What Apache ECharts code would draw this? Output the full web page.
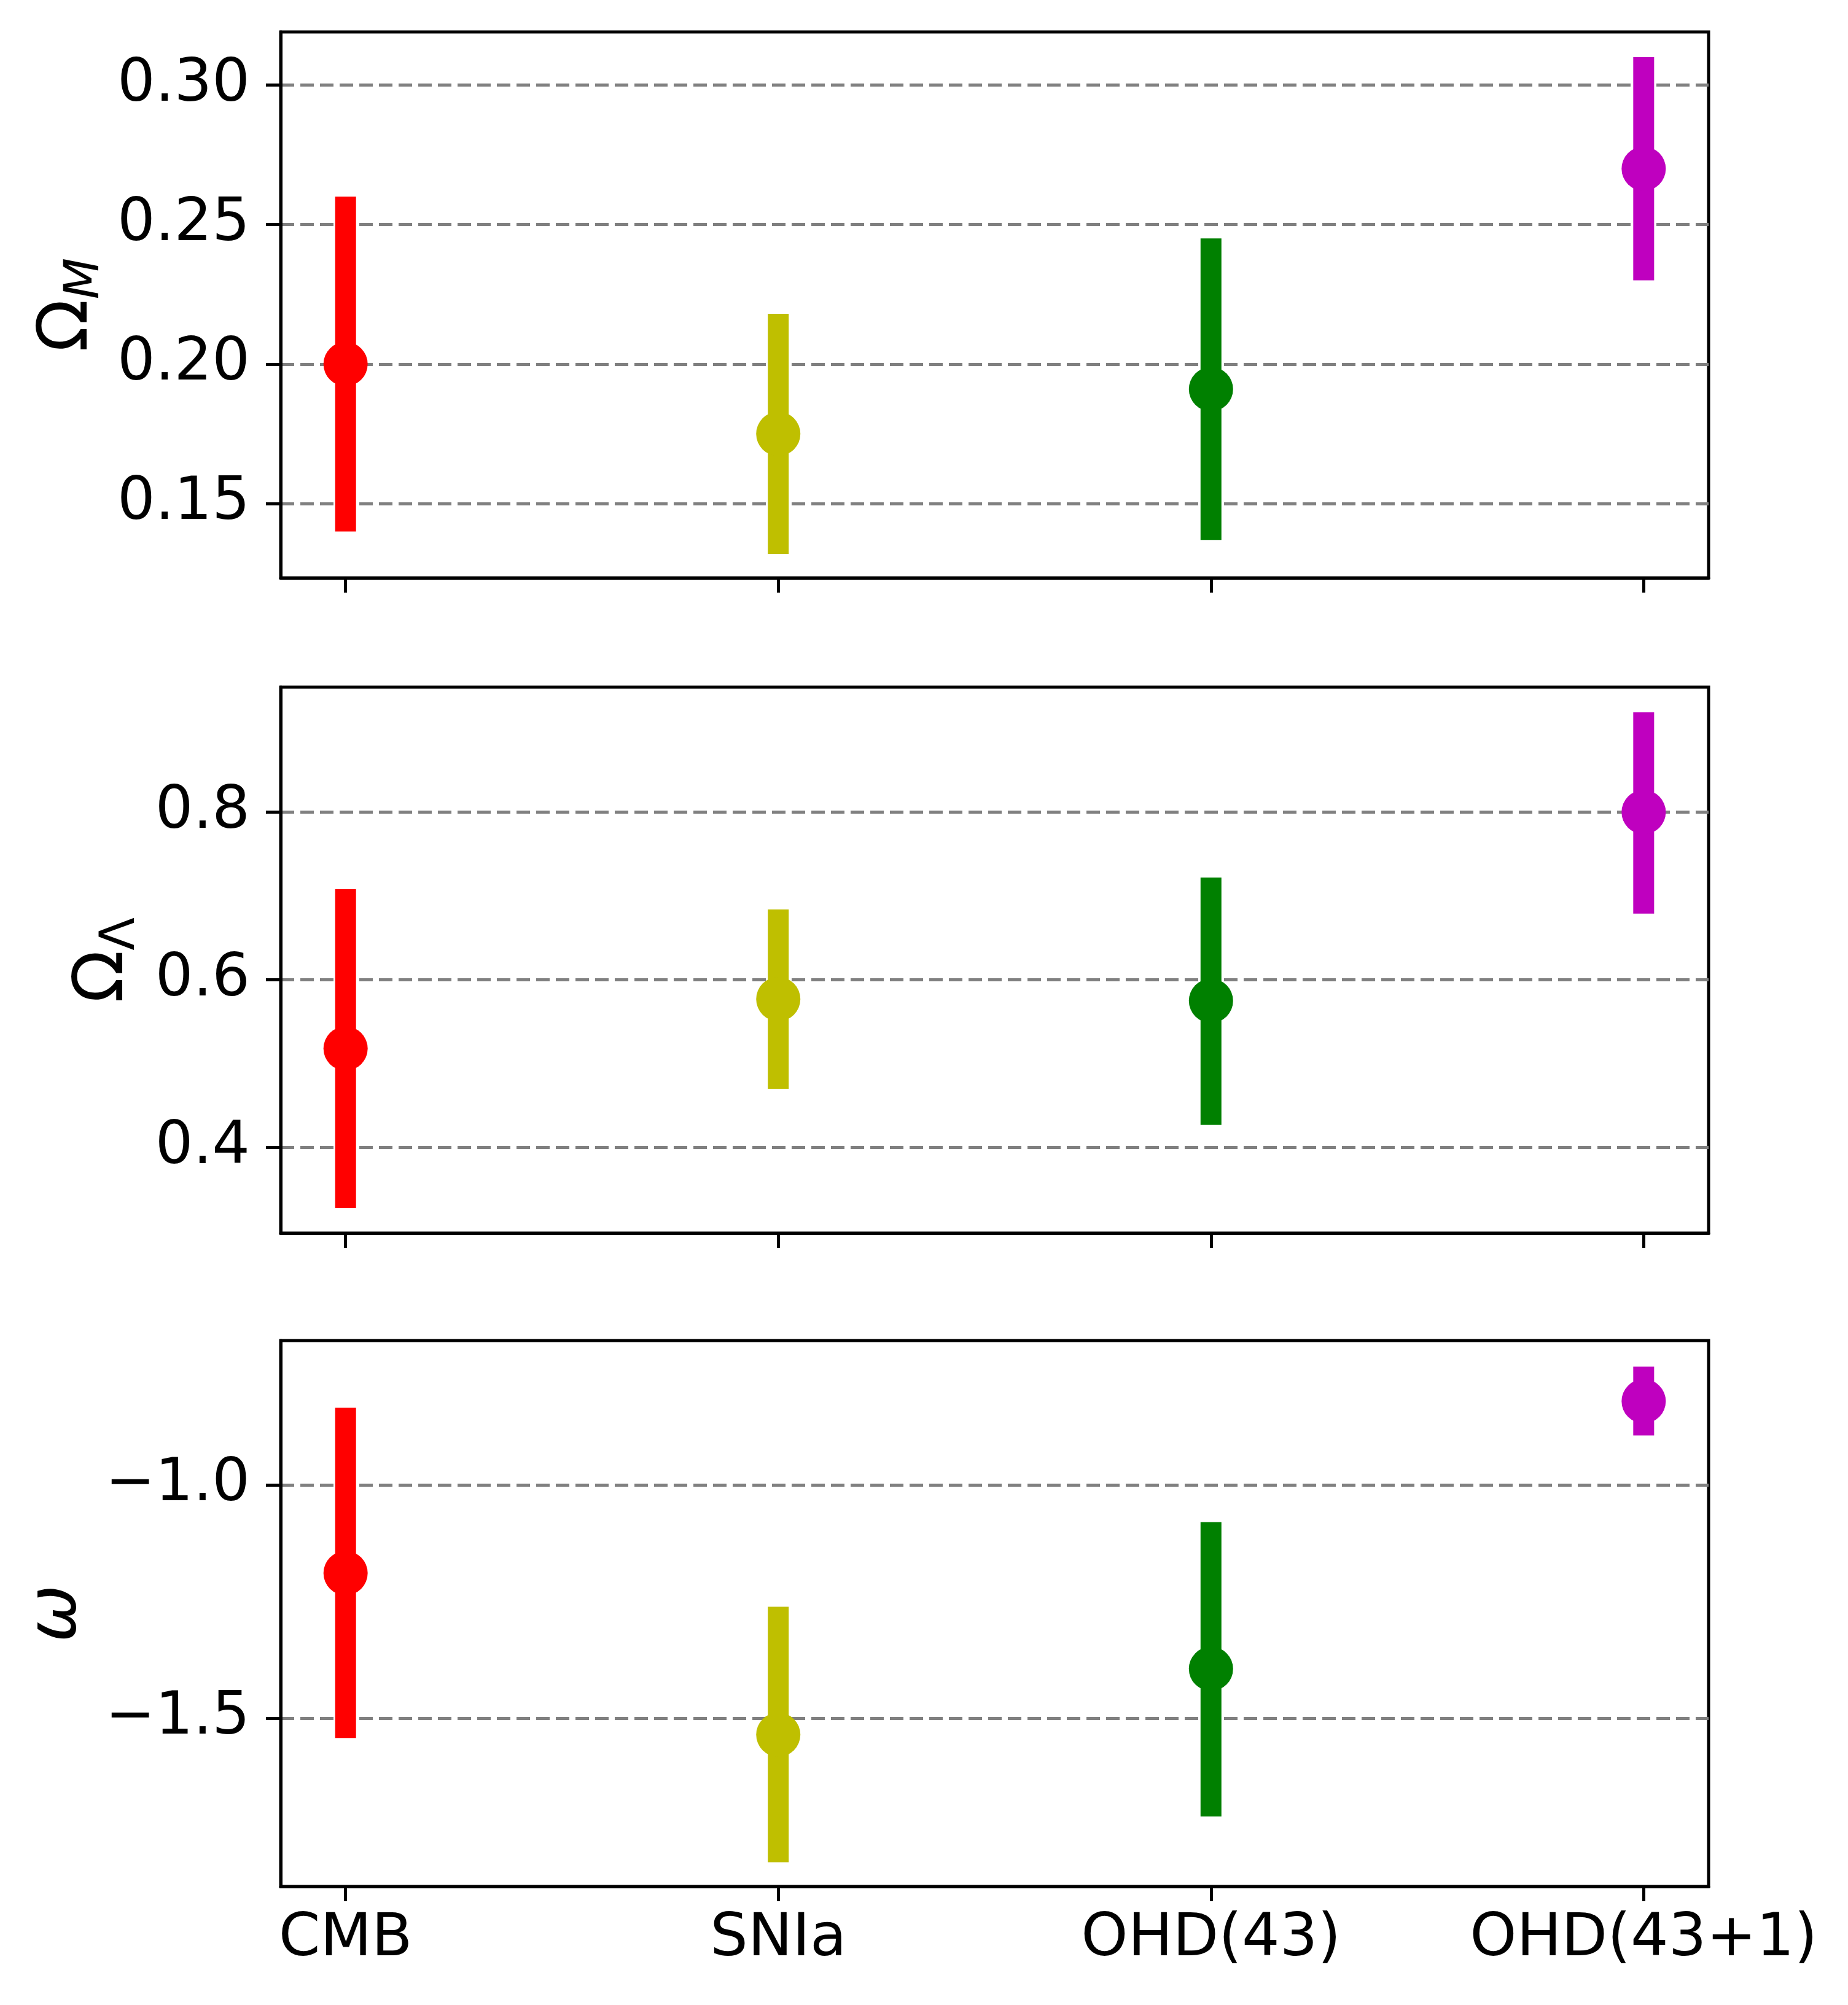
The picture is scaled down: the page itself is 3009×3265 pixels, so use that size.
<!DOCTYPE html>
<html>
<head>
<meta charset="utf-8">
<title>Parameter constraints</title>
<script src="https://cdn.jsdelivr.net/npm/echarts@6/dist/echarts.min.js"></script>
<style>
  html, body { margin: 0; padding: 0; background: #fff; }
  #chart { width: 3009px; height: 3265px; }
</style>
</head>
<body>
<div id="chart"></div>
<script>
// data sets along the x axis
var sources = ['CMB', 'SNIa', 'OHD(43)', 'OHD(43+1)']
var sourceColors = ['#ff0000', '#bfbf00', '#008000', '#bf00bf']
var sourcePos = [0, 1, 2, 3]

// Omega_M: best fit, lower and upper end of the error bar
var omegaM = [0.200, 0.175, 0.191, 0.270]
var omegaMLow = [0.140, 0.132, 0.137, 0.230]
var omegaMHigh = [0.260, 0.218, 0.245, 0.310]

// Omega_Lambda
var omegaL = [0.518, 0.577, 0.575, 0.800]
var omegaLLow = [0.328, 0.470, 0.427, 0.679]
var omegaLHigh = [0.708, 0.684, 0.722, 0.919]

// w
var w = [-1.189, -1.535, -1.394, -0.821]
var wLow = [-1.542, -1.808, -1.710, -0.894]
var wHigh = [-0.835, -1.261, -1.080, -0.747]

// tick labels
var omegaMTicks = [0.15, 0.20, 0.25, 0.30]
var omegaLTicks = [0.4, 0.6, 0.8]
var wTicks = [-1.5, -1.0]

var FONT = 'DejaVu Sans'
var TICK_FONT = 97

var panels = [
  { top: 52, min: 0.1234, max: 0.3190, ticks: omegaMTicks, digits: 2,
    mid: omegaM, low: omegaMLow, high: omegaMHigh,
    name: '{o|Ω}{s|M}', nameGap: 278 },
  { top: 1119, min: 0.298, max: 0.949, ticks: omegaLTicks, digits: 1,
    mid: omegaL, low: omegaLLow, high: omegaLHigh,
    name: '{o|Ω}{u|Λ}', nameGap: 220 },
  { top: 2183, min: -1.860, max: -0.691, ticks: wTicks, digits: 1,
    mid: w, low: wLow, high: wHigh,
    name: '{w|ω}', nameGap: 308 }
]

var nameRich = {
  o: { fontFamily: FONT, fontSize: 112, color: '#000' },
  s: { fontFamily: FONT, fontSize: 78, fontStyle: 'italic', color: '#000', padding: [56, 0, 0, 0] },
  u: { fontFamily: FONT, fontSize: 78, color: '#000', padding: [56, 0, 0, 0] },
  w: { fontFamily: FONT, fontSize: 112, fontStyle: 'italic', color: '#000' }
}

var grids = []
var xAxes = []
var yAxes = []
var series = []

panels.forEach(function(p, i) {
  grids.push({
    left: 457,
    right: 227,
    top: p.top,
    height: 889,
    show: true,
    borderColor: '#000',
    borderWidth: 5,
    backgroundColor: 'transparent',
    containLabel: false,
    outerBoundsMode: 'none'
  })

  xAxes.push({
    type: 'value',
    gridIndex: i,
    min: -0.15,
    max: 3.15,
    axisLine: { show: true, onZero: false, lineStyle: { color: '#000', width: 5 } },
    axisTick: { show: true, customValues: sourcePos, length: 24, lineStyle: { color: '#000', width: 5 } },
    axisLabel: {
      show: i === panels.length - 1,
      customValues: sourcePos,
      margin: 38,
      fontFamily: FONT,
      fontSize: TICK_FONT,
      color: '#000',
      formatter: function(v) { return sources[Math.round(v)] }
    },
    splitLine: { show: false }
  })

  yAxes.push({
    type: 'value',
    gridIndex: i,
    min: p.min,
    max: p.max,
    name: p.name,
    nameLocation: 'middle',
    nameRotate: 90,
    nameGap: p.nameGap,
    nameTextStyle: { rich: nameRich },
    axisLine: { show: true, onZero: false, lineStyle: { color: '#000', width: 5 } },
    axisTick: { show: true, customValues: p.ticks, length: 24, lineStyle: { color: '#000', width: 5 } },
    axisLabel: {
      customValues: p.ticks,
      margin: 50,
      fontFamily: FONT,
      fontSize: TICK_FONT,
      color: '#000',
      formatter: function(v) { return v.toFixed(p.digits).replace('-', '\u2212') }
    },
    splitLine: { show: true, lineStyle: { color: '#808080', width: 5, type: [22, 10] } }
  })

  // error bars
  series.push({
    type: 'custom',
    xAxisIndex: i,
    yAxisIndex: i,
    z: 2,
    data: sourcePos.map(function(x, k) { return [x, p.low[k], p.high[k]] }),
    encode: { x: 0, y: [1, 2] },
    renderItem: function(params, api) {
      var top = api.coord([api.value(0), api.value(2)])
      var bottom = api.coord([api.value(0), api.value(1)])
      return {
        type: 'rect',
        shape: { x: top[0] - 17, y: top[1], width: 34, height: bottom[1] - top[1] },
        style: { fill: sourceColors[params.dataIndex] }
      }
    }
  })

  // best-fit points
  series.push({
    type: 'scatter',
    xAxisIndex: i,
    yAxisIndex: i,
    z: 3,
    symbol: 'circle',
    symbolSize: 72,
    data: sourcePos.map(function(x, k) {
      return { value: [x, p.mid[k]], itemStyle: { color: sourceColors[k], opacity: 1 } }
    })
  })
})

var chart = echarts.init(document.getElementById('chart'), null, { renderer: 'canvas' })
chart.setOption({
  animation: false,
  backgroundColor: '#fff',
  grid: grids,
  xAxis: xAxes,
  yAxis: yAxes,
  series: series
})
</script>
</body>
</html>
